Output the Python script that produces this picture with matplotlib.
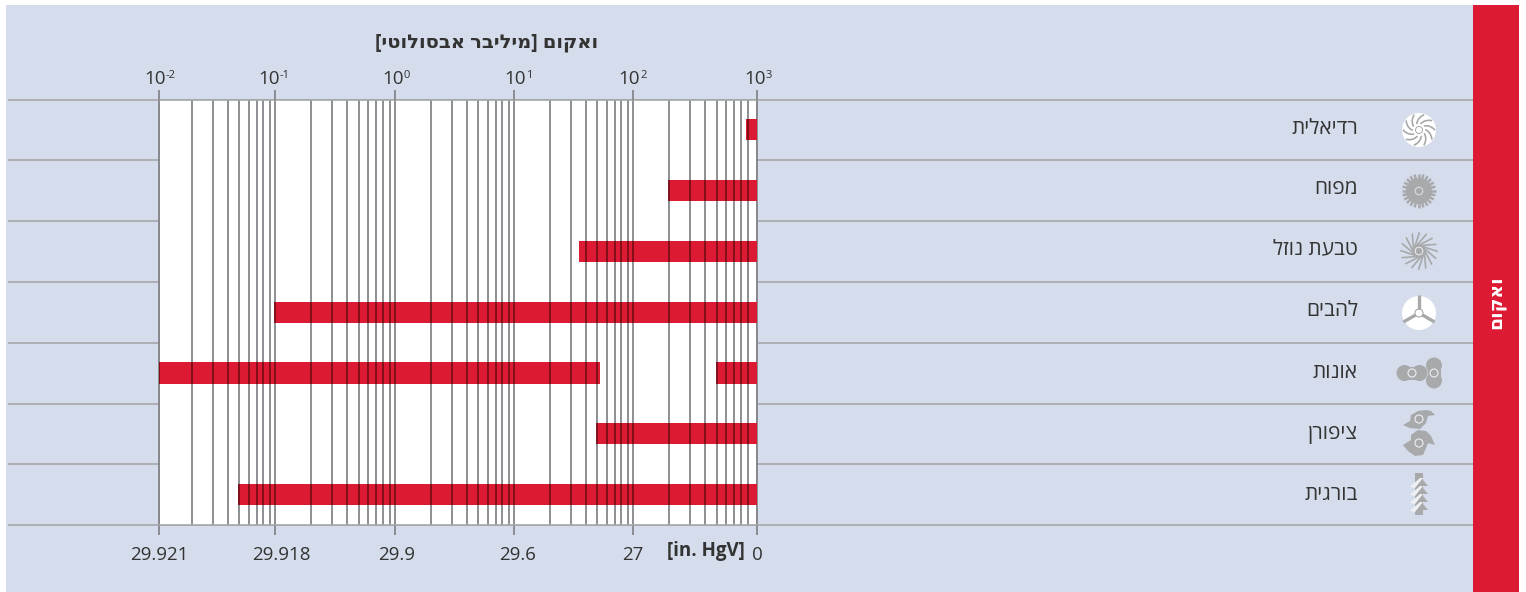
import matplotlib
matplotlib.use("Agg")
import matplotlib.pyplot as plt
import numpy as np
from matplotlib.patches import Circle, Polygon, Rectangle
from matplotlib.transforms import ScaledTranslation

plt.rcParams['font.family'] = ['Open Sans', 'DejaVu Sans']

W, H = 1526, 592
BG = '#d5dceb'
RED = '#dc1a33'
DARK_RED = '#7a0d16'
ROW_GREY = '#a6a7a9'
GRID_GREY = '#85868a'
ICON_GREY = '#a8a9ab'
TEXT = '#333333'

# pump types, top row first
pump_names = ['רדיאלית', 'מפוח', 'טבעת נוזל', 'להבים', 'אונות', 'ציפורן', 'בורגית']
# vacuum ranges in mbar absolute, one list of (start, stop) per pump
pump_ranges = [
    [(880, 1000)],
    [(200, 1000)],
    [(35, 1000)],
    [(0.1, 1000)],
    [(0.01, 53), (500, 1000)],
    [(50, 1000)],
    [(0.05, 1000)],
]
decades = [0.01, 0.1, 1, 10, 100, 1000]
top_exponents = ['-2', '-1', '0', '1', '2', '3']
bottom_labels = ['29.921', '29.918', '29.9', '29.6', '27', '0']
title_text = 'ואקום [מיליבר אבסולוטי]'
side_text = 'ואקום'

# the printed axis is not perfectly even: both ends are stretched a bit
scale_val = np.log10([0.01, 0.02, 0.1, 1, 10, 100, 900, 1000])
scale_px = np.array([159, 192, 275, 395, 514, 633, 747.5, 757], dtype=float)

def forward(x):
    return np.interp(np.log10(np.maximum(x, 1e-6)), scale_val, scale_px)

def inverse(p):
    return 10 ** np.interp(p, scale_px, scale_val)

def hebrew(s):
    # matplotlib has no bidi, flip to visual order
    swap = {'[': ']', ']': '['}
    return ''.join(swap.get(c, c) for c in s[::-1])

def ring(a, x, y, r=4.5, color='#e6e8ee', lw=1.0):
    a.add_patch(Circle((x, y), r, fill=False, ec=color, lw=lw))

def blob(a, x, y, pts):
    a.add_patch(Polygon([(x + px, y + py) for px, py in pts], fc=ICON_GREY, ec='none'))

def icon_radial(a, x, y):
    a.add_patch(Circle((x, y), 17, fc='white', ec='none'))
    for ang in np.arange(0, 360, 36):
        r = np.linspace(7, 15.5, 12)
        t = np.radians(ang) + np.linspace(0, 0.6, 12)
        a.plot(x + r * np.cos(t), y + r * np.sin(t), color=ICON_GREY, lw=1.2)
    a.add_patch(Circle((x, y), 3.5, fc='white', ec=ICON_GREY, lw=0.7))

def icon_fan(a, x, y):
    a.add_patch(Circle((x, y), 13, fc=ICON_GREY, ec='none'))
    for ang in np.arange(0, 360, 15):
        t = np.radians(ang)
        a.plot([x + 12 * np.cos(t), x + 17 * np.cos(t)],
               [y + 12 * np.sin(t), y + 17 * np.sin(t)], color=ICON_GREY, lw=1.8,
               solid_capstyle='butt')
    ring(a, x, y, 3.8, color='#dfe2e8', lw=0.7)

def icon_side(a, x, y):
    for ang in np.arange(0, 360, 22.5):
        t = np.radians(ang)
        a.plot([x + 6 * np.cos(t), x + 18 * np.cos(t + 0.8)],
               [y + 6 * np.sin(t), y + 18 * np.sin(t + 0.8)], color=ICON_GREY, lw=1.2)
    a.add_patch(Circle((x, y), 7, fc=ICON_GREY, ec='none'))
    ring(a, x, y, 3.8, lw=0.8)

def icon_blades(a, x, y):
    a.add_patch(Circle((x, y), 17, fc='white', ec='none'))
    for ang in [-90, 30, 150]:
        t = np.radians(ang)
        a.plot([x + 4 * np.cos(t), x + 18 * np.cos(t)],
               [y + 4 * np.sin(t), y + 18 * np.sin(t)], color=ICON_GREY, lw=2.4,
               solid_capstyle='butt')
    a.add_patch(Circle((x, y), 4, fc='white', ec=ICON_GREY, lw=0.8))

def icon_lobes(a, x, y):
    lx, rx = x - 7, x + 15
    for dx in (-7.5, 7.5):
        a.add_patch(Circle((lx + dx, y), 8, fc=ICON_GREY, ec='none'))
    a.add_patch(Rectangle((lx - 7, y - 6.5), 14, 13, fc=ICON_GREY, ec='none'))
    for dy in (-7.5, 7.5):
        a.add_patch(Circle((rx, y + dy), 8, fc=ICON_GREY, ec='none'))
    a.add_patch(Rectangle((rx - 6.5, y - 7), 13, 14, fc=ICON_GREY, ec='none'))
    ring(a, lx, y, 4, lw=0.9)
    ring(a, rx, y, 4, lw=0.9)

def icon_claw(a, x, y):
    blob(a, x, y - 15, [(-16, 6), (-9, 2), (-8, -4), (-1, -8), (7, -9), (12, -8), (16, -4), (9, -3),
                        (7, 4), (1, 10), (-9, 9)])
    blob(a, x, y + 9, [(-16, 2), (-8, -3), (-8, -8), (-1, -13), (7, -12), (12, -7), (16, 2), (9, 0),
                       (7, 5), (4, 12), (-4, 13), (-11, 8)])
    ring(a, x, y - 15, 4, lw=0.9)
    ring(a, x, y + 9, 4, lw=0.9)

def icon_screw(a, x, y):
    a.add_patch(Rectangle((x - 4, y - 21), 8, 42, fc=ICON_GREY, ec='none'))
    for dy in (-9, -1, 7, 15):
        a.add_patch(Polygon([(x - 9, y + dy + 2), (x + 1, y + dy - 7), (x + 4, y + dy - 7), (x - 4, y + dy + 3)],
                            fc='#eef0f4', ec='none'))
        a.add_patch(Polygon([(x + 3, y + dy - 6), (x + 9, y + dy + 1), (x + 3, y + dy + 1)],
                            fc=ICON_GREY, ec='none'))

icons = [icon_radial, icon_fan, icon_side, icon_blades, icon_lobes, icon_claw, icon_screw]
icon_y = [130, 191, 251, 313, 373, 434, 494]
label_y = [128, 189, 249, 311, 372, 433, 494]
row_edges = [160, 221, 282, 343, 404, 464]

fig = plt.figure(figsize=(W / 100, H / 100), dpi=100, facecolor='white')

# backdrop layer in pixel coordinates, for panel, rows, icons and labels
bg = fig.add_axes([0, 0, 1, 1], zorder=0)
bg.set_xlim(0, W)
bg.set_ylim(H, 0)
bg.axis('off')
bg.add_patch(Rectangle((6, 5), 1467, 587, fc=BG, ec='none'))
bg.add_patch(Rectangle((1473, 5), 46, 587, fc=RED, ec='none'))
for y in [99.5] + row_edges + [525]:
    bg.plot([8, 1473], [y, y], color=ROW_GREY, lw=1.2, solid_capstyle='butt')
for name, func, iy, ly in zip(pump_names, icons, icon_y, label_y):
    func(bg, 1419, iy)
    bg.text(1358, ly, hebrew(name), ha='right', va='center', fontsize=15, color=TEXT)
bg.text(1496, 302, hebrew(side_text), rotation=90, ha='center', va='center', fontsize=13.5,
        fontweight='bold', color='white')
bg.text(486.5, 42, hebrew(title_text), ha='center', va='center', fontsize=14, fontweight='bold', color=TEXT)
bg.text(706, 551, '[in. HgV]', ha='center', va='center', fontsize=13.5, fontweight='bold', color=TEXT)

# chart itself
ax = fig.add_axes([159 / W, 1 - 525 / H, (757 - 159) / W, (525 - 99.5) / H], zorder=1)
ax.set_facecolor('white')
ax.set_xscale('function', functions=(forward, inverse))
ax.set_xlim(0.01, 1000)
ax.set_ylim(len(pump_names) - 0.5, -0.5)
ax.set_yticks([])

minor = [m * d for d in decades[:-1] for m in range(2, 10)]
ax.set_xticks(decades)
ax.set_xticklabels(bottom_labels)
ax.set_xticks(minor, minor=True)
ax.xaxis.set_minor_formatter(plt.NullFormatter())
ax.tick_params(axis='x', which='major', length=7, width=1.3, color=GRID_GREY, labelsize=13.5,
               labelcolor=TEXT, pad=8)
ax.tick_params(axis='x', which='minor', length=0)
ax.grid(axis='x', which='both', color=GRID_GREY, lw=1.3)
ax.set_axisbelow(True)

# labels in the print sit a little right of their ticks
for label, shift in zip(ax.get_xticklabels(), [0, 6, 2, 4, 0, 0]):
    label.set_transform(label.get_transform() + ScaledTranslation(shift / 100, 0, fig.dpi_scale_trans))

top = ax.twiny()
top.set_xscale('function', functions=(forward, inverse))
top.set_xlim(ax.get_xlim())
top.set_xticks(decades)
top.set_xticklabels([])
top.set_xticks([], minor=True)
top.tick_params(axis='x', length=7, width=1.3, color=GRID_GREY)
for sp in top.spines.values():
    sp.set_visible(False)

# the small exponents need their own text, mathtext superscripts come out too big
split_px = [7, 5, 9, 12, 7, 9]
for d, exp, off in zip(decades, top_exponents, split_px):
    ax.annotate('10', xy=(d, 1), xycoords=('data', 'axes fraction'), xytext=(off * 0.72, 15),
                textcoords='offset points', ha='right', va='center', fontsize=13.5, color=TEXT,
                annotation_clip=False)
    ax.annotate(exp, xy=(d, 1), xycoords=('data', 'axes fraction'), xytext=(off * 0.72, 17.5),
                textcoords='offset points', ha='left', va='center', fontsize=8, color=TEXT,
                annotation_clip=False)

for side in ('top', 'bottom'):
    ax.spines[side].set_color(ROW_GREY)
    ax.spines[side].set_linewidth(1.2)
for side in ('left', 'right'):
    ax.spines[side].set_color(GRID_GREY)
    ax.spines[side].set_linewidth(1.3)

bar_h = 0.348
all_lines = sorted(decades + minor)
for row, spans in enumerate(pump_ranges):
    for start, stop in spans:
        ax.barh(row, stop - start, left=start, height=bar_h, color=RED, zorder=3)
        inside = [v for v in all_lines if start <= v < stop]
        ax.vlines(inside, row - bar_h / 2, row + bar_h / 2, color=DARK_RED, lw=1.3, zorder=4)

fig.savefig('out.png', dpi=100, facecolor='white')
